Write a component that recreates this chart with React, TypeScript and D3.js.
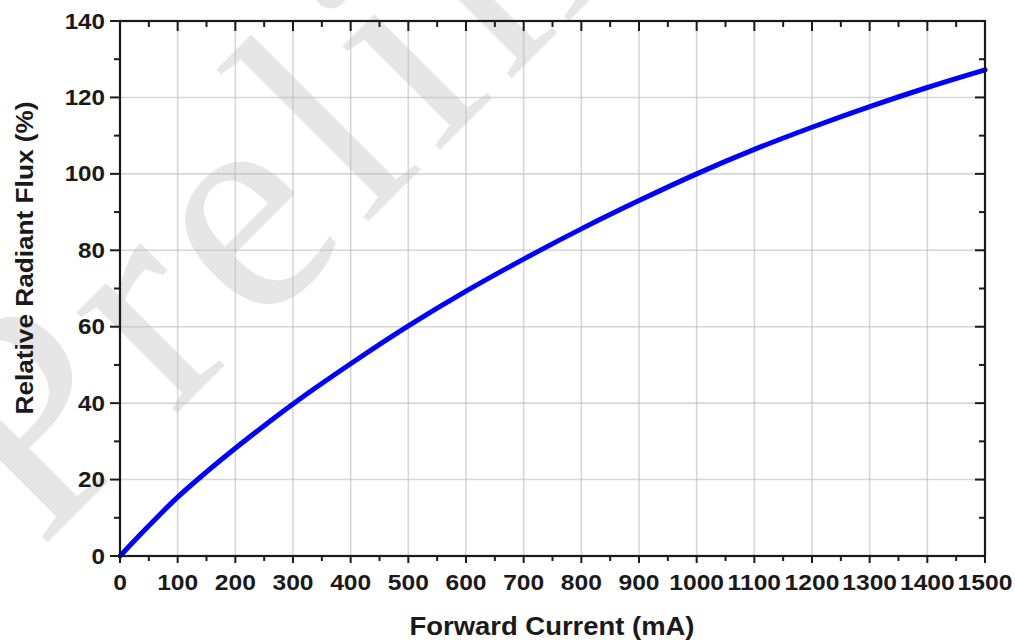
import React from "react";
import * as d3 from "d3";

const currents = [0, 50, 100, 150, 200, 250, 300, 400, 500, 600, 700, 800, 900, 1000, 1100, 1200, 1300, 1400, 1500];
const flux = [0, 7.9, 15.4, 22.0, 28.2, 34.1, 39.8, 50.3, 60.2, 69.3, 77.7, 85.6, 93.0, 100, 106.4, 112.2, 117.6, 122.6, 127.2];
const xTicks = [0, 100, 200, 300, 400, 500, 600, 700, 800, 900, 1000, 1100, 1200, 1300, 1400, 1500];
const yTicks = [0, 20, 40, 60, 80, 100, 120, 140];
const xMinor = [50, 150, 250, 350, 450, 550, 650, 750, 850, 950, 1050, 1150, 1250, 1350, 1450];
const yMinor = [10, 30, 50, 70, 90, 110, 130];
const xTitle = "Forward Current (mA)";
const yTitle = "Relative Radiant Flux (%)";
const watermark = "Preliminary";

const W = 1015, H = 643;
const L = 120, R = 985, T = 21, B = 556;
const FONT = "'Liberation Sans', Arial, sans-serif";

export default function App() {
  const x = d3.scaleLinear().domain([0, 1500]).range([L, R]);
  const y = d3.scaleLinear().domain([0, 140]).range([B, T]);
  const line = d3.line<number>()
    .x((_, i) => x(currents[i]))
    .y((d) => y(d))
    .curve(d3.curveCatmullRom.alpha(0.5));
  const path = line(flux) || "";
  return (
    <svg width={W} height={H} style={{ position: "fixed", left: 0, top: 0, background: "#fff" }}>
      <rect x={0} y={0} width={W} height={H} fill="#fff" />
      <text
        transform="translate(40,550) rotate(-45)"
        fontFamily="'Liberation Serif', 'Times New Roman', serif"
        fontSize={310}
        fill="#e6e6e6"
        letterSpacing={15}
      >
        {watermark}
      </text>
      {xTicks.map((t) => (
        <line key={"gx" + t} x1={x(t)} x2={x(t)} y1={T} y2={B} stroke="#bdbdbd" strokeOpacity={0.6} strokeWidth={1.6} />
      ))}
      {yTicks.map((t) => (
        <line key={"gy" + t} x1={L} x2={R} y1={y(t)} y2={y(t)} stroke="#bdbdbd" strokeOpacity={0.6} strokeWidth={1.6} />
      ))}
      <path d={path} fill="none" stroke="#0000ff" strokeWidth={5} strokeLinecap="round" />
      <rect x={L} y={T} width={R - L} height={B - T} fill="none" stroke="#1a1a1a" strokeWidth={2.2} />
      {xTicks.map((t) => (
        <g key={"xt" + t}>
          <line x1={x(t)} x2={x(t)} y1={B} y2={B + 7} stroke="#1a1a1a" strokeWidth={2} />
          <line x1={x(t)} x2={x(t)} y1={T} y2={T + 10} stroke="#1a1a1a" strokeWidth={2} />
          <text transform={`translate(${x(t)},${590}) scale(1.12,1)`} textAnchor="middle" fontFamily={FONT} fontWeight="bold" fontSize={22} fill="#1a1a1a">
            {t}
          </text>
        </g>
      ))}
      {xMinor.map((t) => (
        <g key={"xm" + t}>
          <line x1={x(t)} x2={x(t)} y1={B} y2={B + 5} stroke="#1a1a1a" strokeWidth={2} />
          <line x1={x(t)} x2={x(t)} y1={T} y2={T + 6} stroke="#1a1a1a" strokeWidth={2} />
        </g>
      ))}
      {yTicks.map((t) => (
        <g key={"yt" + t}>
          <line x1={L - 10} x2={L} y1={y(t)} y2={y(t)} stroke="#1a1a1a" strokeWidth={2} />
          <line x1={R - 10} x2={R} y1={y(t)} y2={y(t)} stroke="#1a1a1a" strokeWidth={2} />
          <text transform={`translate(${105},${y(t) + 7.5}) scale(1.1,1)`} textAnchor="end" fontFamily={FONT} fontWeight="bold" fontSize={22} fill="#1a1a1a">
            {t}
          </text>
        </g>
      ))}
      {yMinor.map((t) => (
        <g key={"ym" + t}>
          <line x1={L - 6} x2={L} y1={y(t)} y2={y(t)} stroke="#1a1a1a" strokeWidth={2} />
          <line x1={R - 6} x2={R} y1={y(t)} y2={y(t)} stroke="#1a1a1a" strokeWidth={2} />
        </g>
      ))}
      <text x={552} y={635} textAnchor="middle" fontFamily={FONT} fontWeight="bold" fontSize={25} fill="#1a1a1a" textLength={285} lengthAdjust="spacingAndGlyphs">
        {xTitle}
      </text>
      <text transform="translate(33,258) rotate(-90)" textAnchor="middle" fontFamily={FONT} fontWeight="bold" fontSize={23} fill="#1a1a1a" textLength={313} lengthAdjust="spacingAndGlyphs">
        {yTitle}
      </text>
    </svg>
  );
}
